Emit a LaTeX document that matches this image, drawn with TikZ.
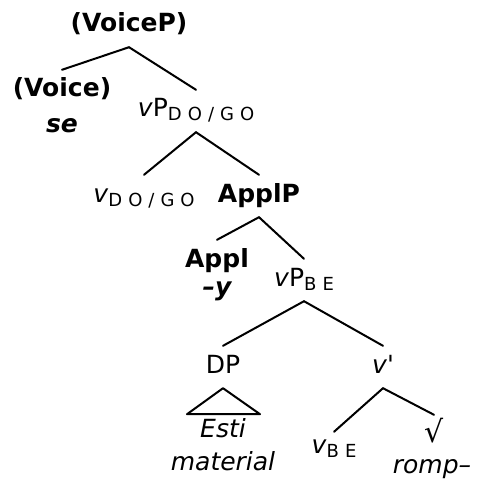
\documentclass[tikz,border=0pt]{standalone}
\usepackage{fontspec}
\setmainfont[Ligatures=TeXOff]{DejaVu Sans}
\newcommand{\lsub}[1]{\raisebox{-4pt}{\fontsize{18}{18}\selectfont #1}}
\newcommand{\lgap}{\kern6pt}

\begin{document}
\begin{tikzpicture}[x=1pt,y=-1pt,line cap=round,line join=round,
  lbl/.style={anchor=base,inner xsep=0pt,inner ysep=12pt,text height=15pt,text depth=3pt,font=\fontsize{25}{30}\selectfont},
  leaf/.style={anchor=base,inner sep=0pt,font=\fontsize{25}{30}\selectfont},
  branch/.style={line width=2pt}]
  \useasboundingbox (0,0) rectangle (477,484);
  \node[lbl] (voicep) at (129,32) {\bfseries (VoiceP)};
  \node[lbl] (voice) at (62,97) {\bfseries (Voice)};
  \node[leaf] (se) at (62,132) {\bfseries\itshape se};
  \node[lbl] (vpdogo) at (196,117) {\textit{v}P\lsub{D\lgap O\lgap /\lgap G\lgap O}};
  \node[lbl] (vdogo) at (144,202) {\textit{v}\lsub{D\lgap O\lgap /\lgap G\lgap O}};
  \node[lbl] (applp) at (259,202) {\bfseries ApplP};
  \node[lbl] (appl) at (217,267) {\bfseries Appl};
  \node[leaf] (y) at (217,295) {\bfseries\itshape –y};
  \node[lbl] (vpbe) at (304,286) {\textit{v}P\lsub{B\lgap E}};
  \node[lbl] (dp) at (223,373) {DP};
  \node[lbl] (vbar) at (383,373) {\textit{v}'};
  \node[leaf] (esti) at (223,437) {\itshape Esti};
  \node[leaf] (material) at (223,470) {\itshape material};
  \node[lbl,inner ysep=6pt] (vbe) at (334,453) {\textit{v}\lsub{B\lgap E}};
  \node[lbl,font=\fontsize{30}{30}\selectfont] (root) at (434,442) {√};
  \node[leaf] (romp) at (432,473) {\itshape romp–};
  % branches
  \draw[branch] (voicep.south) -- (voice.north);
  \draw[branch] (voicep.south) -- (vpdogo.north);
  \draw[branch] (vpdogo.south) -- (vdogo.north);
  \draw[branch] (vpdogo.south) -- (applp.north);
  \draw[branch] (applp.south) -- (appl.north);
  \draw[branch] (applp.south) -- (vpbe.north);
  \draw[branch] (vpbe.south) -- (dp.north);
  \draw[branch] (vpbe.south) -- (vbar.north);
  \draw[branch] (vbar.south) -- (vbe.north);
  \draw[branch] (vbar.south) -- (root.north);
  % triangle under DP
  \draw[branch] (dp.south) -- ++(-36,26) -- ++(73,0) -- cycle;
\end{tikzpicture}
\end{document}
